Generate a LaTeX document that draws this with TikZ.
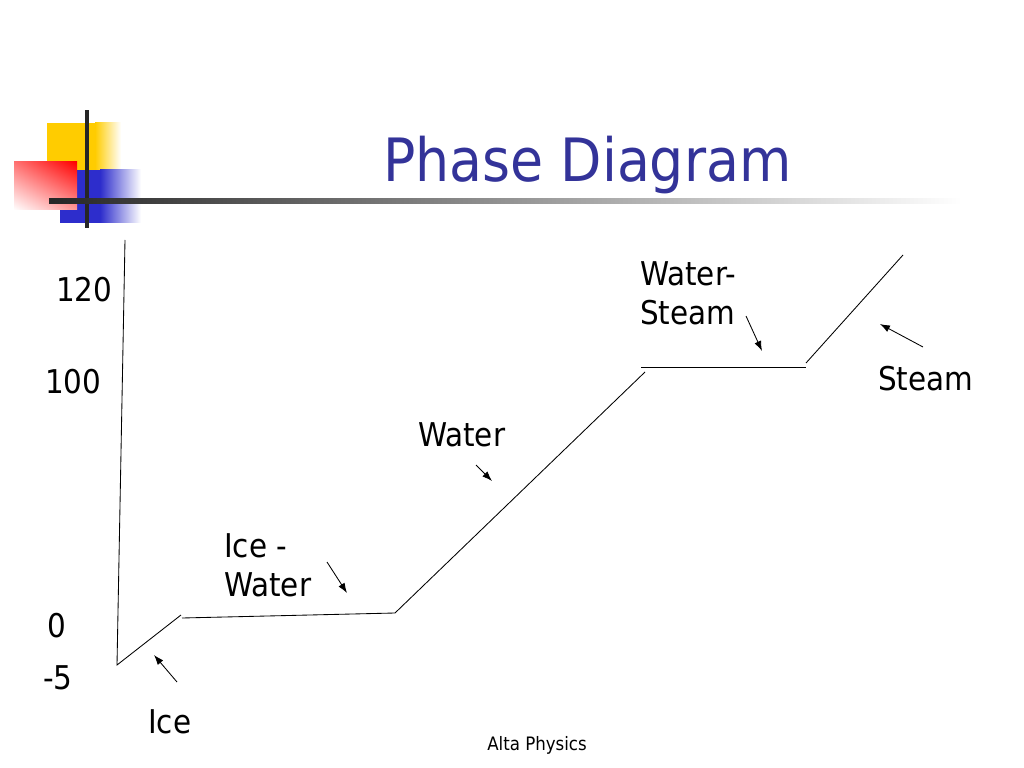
\documentclass[tikz,border=0pt]{standalone}
\usepackage{fontspec}
\setmainfont{DejaVu Sans Condensed}
\usetikzlibrary{arrows.meta,shadings}
\definecolor{titleblue}{RGB}{51,51,153}
\definecolor{logoyellow}{RGB}{255,204,0}
\definecolor{logoblue}{RGB}{45,45,204}
\tikzset{
  lbl/.style={anchor=base west,inner sep=0pt,font=\fontsize{23}{28}\selectfont},
  ptr/.style={-{Latex[length=7pt,width=5pt]},line width=0.6pt},
}
\begin{document}
\begin{tikzpicture}[x=0.703125pt,y=-0.703125pt]
  \useasboundingbox (0,0) rectangle (1024,768);
  % slide logo
  \fill[logoyellow] (47,123) rectangle (95,170);
  \shade[left color=logoyellow,right color=white] (95,123) rectangle (121,170);
  \fill[logoblue] (60,170) rectangle (100,223);
  \shade[left color=logoblue,right color=white] (100,170) rectangle (141,223);
  \shade[upper right=red,lower left=white,upper left=red!55,lower right=red!40]
    (14,162) rectangle (77,210);
  \fill[black!85] (85,110) rectangle (89,228);
  \shade[left color=black!85,right color=white] (49,199) rectangle (962,204);
  \node[anchor=base west,inner sep=0pt,text=titleblue,font=\fontsize{42}{50}\selectfont]
    (title) at (383,182) {Phase Diagram};
  % temperature marks
  \node[lbl] (t120) at (56,302) {120};
  \node[lbl] (t100) at (45,393) {100};
  \node[lbl] (t0) at (47,637) {0};
  \node[lbl] (tm5) at (43,689) {-5};
  % phase labels
  \node[lbl] (ice) at (148,733) {Ice};
  \node[lbl,anchor=north west,align=left] (icewater) at (224,533) {Ice -\\Water};
  \node[lbl] (water) at (418,446) {Water};
  \node[lbl,anchor=north west,align=left] (watersteam) at (640,261) {Water-\\Steam};
  \node[lbl] (steam) at (878,390) {Steam};
  \node[anchor=base west,inner sep=0pt,font=\fontsize{13}{15}\selectfont]
    (footer) at (487,750) {Alta Physics};
  % heating curve
  \path
    (125,240) coordinate (top)
    (117,665) coordinate (icelow)
    (181,615) coordinate (icehigh)
    (182,618) coordinate (meltstart)
    (395,613) coordinate (meltend)
    (645,372) coordinate (waterhigh)
    (641,367) coordinate (boilstart)
    (806,367) coordinate (boilend)
    (806,363) coordinate (steamlow)
    (903,255) coordinate (steamhigh);
  \begin{scope}[line width=0.6pt]
    \draw (top) -- (icelow) -- (icehigh);
    \draw (meltstart) -- (meltend) -- (waterhigh);
    \draw (boilstart) -- (boilend);
    \draw (steamlow) -- (steamhigh);
  \end{scope}
  % pointers
  \path
    (177,682) coordinate (icetail)
    (154,655) coordinate (icehead)
    (327,562) coordinate (melttail)
    (347,593) coordinate (melthead)
    (476,465) coordinate (watertail)
    (492,481) coordinate (waterhead)
    (746,316) coordinate (boiltail)
    (762,351) coordinate (boilhead)
    (923,347) coordinate (steamtail)
    (880,324) coordinate (steamhead);
  \draw[ptr] (icetail) -- (icehead);
  \draw[ptr] (melttail) -- (melthead);
  \draw[ptr] (watertail) -- (waterhead);
  \draw[ptr] (boiltail) -- (boilhead);
  \draw[ptr] (steamtail) -- (steamhead);
\end{tikzpicture}
\end{document}
